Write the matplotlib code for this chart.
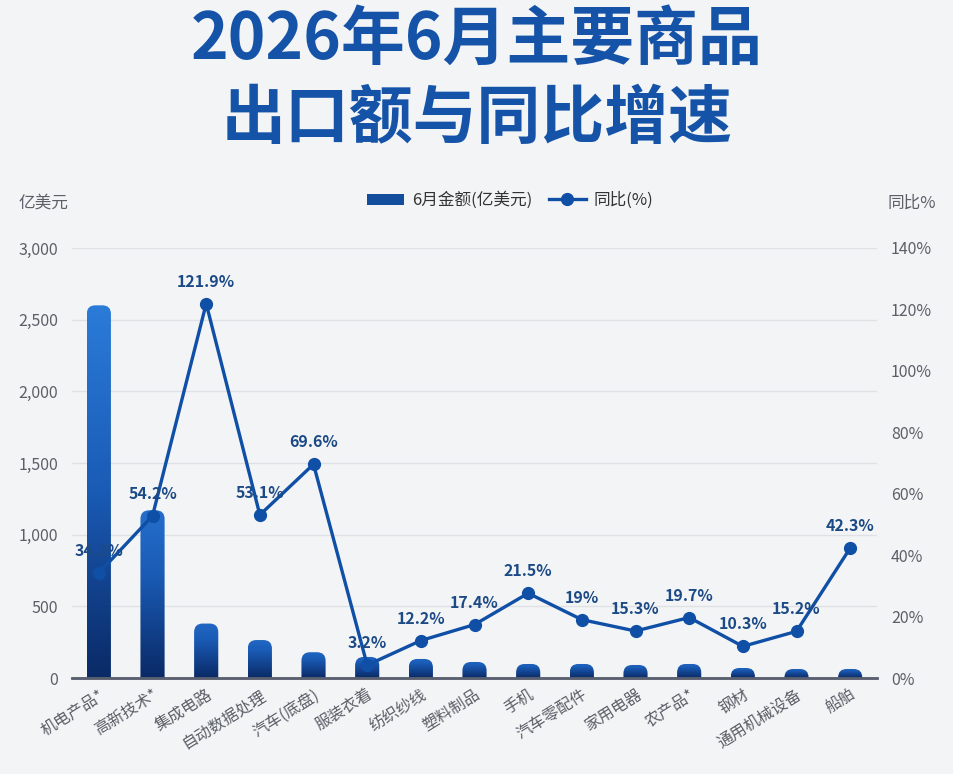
import numpy as np
import matplotlib
matplotlib.use("Agg")
import matplotlib.pyplot as plt
from matplotlib.patches import FancyBboxPatch, Patch
from matplotlib.lines import Line2D
from matplotlib.colors import LinearSegmentedColormap

plt.rcParams['font.family'] = ['Noto Sans CJK SC', 'DejaVu Sans']

# data
categories = ['机电产品*', '高新技术*', '集成电路', '自动数据处理', '汽车(底盘)', '服装衣着',
              '纺织纱线', '塑料制品', '手机', '汽车零配件', '家用电器', '农产品*',
              '钢材', '通用机械设备', '船舶']
amount = [2600, 1170, 380, 265, 180, 147, 133, 112, 98, 98, 91, 98, 70, 63, 63]
yoy = [34.2, 52.8, 121.9, 53.1, 69.6, 4.2, 12.2, 17.4, 27.6, 19.0, 15.3, 19.7, 10.3, 15.2, 42.3]
yoy_labels = ['34.2%', '54.2%', '121.9%', '53.1%', '69.6%', '3.2%', '12.2%', '17.4%',
              '21.5%', '19%', '15.3%', '19.7%', '10.3%', '15.2%', '42.3%']
left_ticks = [0, 500, 1000, 1500, 2000, 2500, 3000]
right_ticks = [0, 20, 40, 60, 80, 100, 120, 140]

BG = '#f3f4f5'
TITLE_C = '#1553a8'
LINE_C = '#0f4fa6'
LABEL_C = '#1c4a86'
TICK_C = '#5a5f68'

fig = plt.figure(figsize=(9.54, 7.74), dpi=100, facecolor=BG)
ax = fig.add_axes([0.0755, 0.124, 0.8438, 0.5556], facecolor='none')
ax2 = ax.twinx()

x = np.arange(len(categories))
ax.set_xlim(-0.5, len(categories) - 0.5)
ax.set_ylim(0, 3000)
ax2.set_ylim(0, 140)

# gradient bars with rounded tops
cmap = LinearSegmentedColormap.from_list('bar', ['#0a2a66', '#1a5bb5', '#2b7bd9'])
bw = 0.45
bbox = ax.get_window_extent()
px_x = bbox.width / len(categories)
px_y = bbox.height / 3000
aspect = px_x / px_y
grad = np.linspace(0, 1, 256).reshape(-1, 1)
for xi, h in zip(x, amount):
    patch = FancyBboxPatch((xi - bw / 2, -200), bw, h + 200,
                           boxstyle='round,pad=0,rounding_size=0.16',
                           mutation_aspect=aspect, linewidth=0, facecolor='none')
    ax.add_patch(patch)
    top_c = 0.66 + 0.34 * min(h / 2600, 1)
    im = ax.imshow(grad * top_c, extent=(xi - bw / 2, xi + bw / 2, 0, h), origin='lower',
                   cmap=cmap, vmin=0, vmax=1, aspect='auto', zorder=2)
    im.set_clip_path(patch)
ax.set_xlim(-0.5, len(categories) - 0.5)
ax.set_ylim(0, 3000)

# line
ax2.plot(x, yoy, color=LINE_C, linewidth=2.4, marker='o', markersize=8.5, zorder=3)
for xi, v, lab in zip(x, yoy, yoy_labels):
    ax2.annotate(lab, (xi, v), xytext=(0, 10), textcoords='offset points',
                 ha='center', va='bottom', fontsize=11.5, fontweight='bold', color=LABEL_C)

# axes styling
ax.set_yticks(left_ticks)
ax.set_yticklabels([f'{t:,}' for t in left_ticks])
ax2.set_yticks(right_ticks)
ax2.set_yticklabels([f'{t}%' for t in right_ticks])
ax.grid(axis='y', color='#dfe1e4', linewidth=1)
ax.set_axisbelow(True)
ax.set_xticks(x)
ax.set_xticklabels(categories, rotation=32, ha='right', rotation_mode='anchor')
for a in (ax, ax2):
    for s in ('top', 'left', 'right'):
        a.spines[s].set_visible(False)
    a.spines['bottom'].set_color('#5a6070')
    a.spines['bottom'].set_linewidth(1.8)
    a.tick_params(length=0, labelsize=11.5, colors=TICK_C)
ax.tick_params(axis='y', pad=10)
ax2.tick_params(axis='y', pad=10)
ax.tick_params(axis='x', pad=6)

# titles and axis captions
fig.text(0.5, 0.948, '2026年6月主要商品', ha='center', va='center',
         fontsize=46, fontweight='heavy', color=TITLE_C)
fig.text(0.5, 0.846, '出口额与同比增速', ha='center', va='center',
         fontsize=46, fontweight='heavy', color=TITLE_C)
fig.text(0.019, 0.738, '亿美元', ha='left', va='center', fontsize=12, color=TICK_C)
fig.text(0.981, 0.738, '同比%', ha='right', va='center', fontsize=12, color=TICK_C)

handles = [Patch(facecolor='#134d9e', edgecolor='none'),
           Line2D([0], [0], color=LINE_C, linewidth=2.4, marker='o', markersize=8.5)]
fig.legend(handles, ['6月金额(亿美元)', '同比(%)'], loc='center', bbox_to_anchor=(0.535, 0.741),
           ncol=2, frameon=False, fontsize=12, handlelength=2.2, columnspacing=1.0,
           handletextpad=0.5, labelcolor='#333333')

fig.savefig('out.png', dpi=100, facecolor=BG)
